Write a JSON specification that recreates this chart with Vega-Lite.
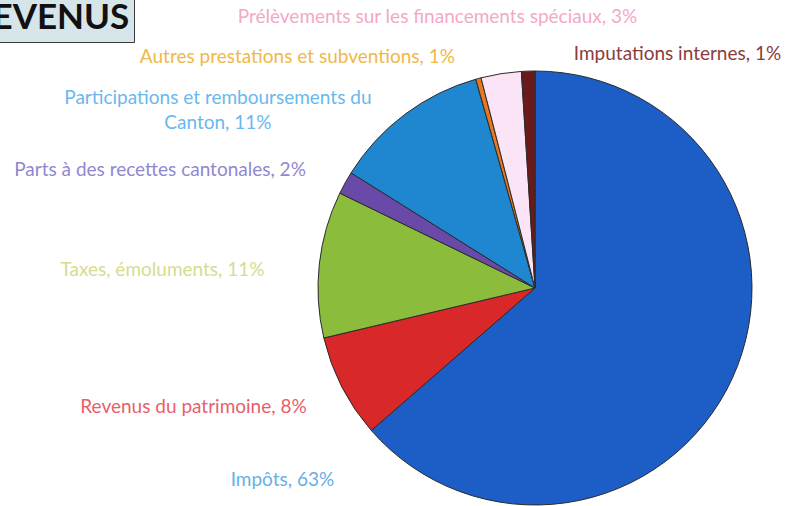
{
  "$schema": "https://vega.github.io/schema/vega-lite/v6.json",
  "width": 506,
  "height": 436,
  "autosize": {"type": "none"},
  "padding": {"left": 282, "top": 70, "right": 0, "bottom": 0},
  "background": "white",
  "view": {"stroke": null},
  "data": {"values": [
    {"cat": "Impôts", "value": 63.6, "ord": 1, "label": "Impôts, 63%"},
    {"cat": "Revenus du patrimoine", "value": 7.7, "ord": 2, "label": "Revenus du patrimoine, 8%"},
    {"cat": "Taxes, émoluments", "value": 10.9, "ord": 3, "label": "Taxes, émoluments, 11%"},
    {"cat": "Parts à des recettes cantonales", "value": 1.7, "ord": 4, "label": "Parts à des recettes cantonales, 2%"},
    {"cat": "Participations et remboursements du Canton", "value": 11.7, "ord": 5, "label": "Participations et remboursements du\nCanton, 11%"},
    {"cat": "Autres prestations et subventions", "value": 0.4, "ord": 6, "label": "Autres prestations et subventions, 1%"},
    {"cat": "Prélèvements sur les financements spéciaux", "value": 3.0, "ord": 7, "label": "Prélèvements sur les financements spéciaux, 3%"},
    {"cat": "Imputations internes", "value": 1.0, "ord": 8, "label": "Imputations internes, 1%"}
  ]},
  "encoding": {
    "theta": {"field": "value", "type": "quantitative", "stack": true},
    "order": {"field": "ord", "type": "quantitative"}
  },
  "layer": [
    {
      "mark": {"type": "arc", "outerRadius": 217, "stroke": "#2b2b2b", "strokeWidth": 1},
      "encoding": {
        "color": {
          "field": "cat", "type": "nominal",
          "scale": {
            "domain": ["Impôts", "Revenus du patrimoine", "Taxes, émoluments", "Parts à des recettes cantonales", "Participations et remboursements du Canton", "Autres prestations et subventions", "Prélèvements sur les financements spéciaux", "Imputations internes"],
            "range": ["#1c5dc6", "#d8282a", "#8cbc3c", "#6a4aa8", "#1f86d0", "#e87820", "#fbe4f6", "#6a1a1a"]
          },
          "legend": {
            "values": ["Impôts"],
            "orient": "none",
            "legendX": -316,
            "legendY": -73,
            "title": "REVENUS",
            "titleFont": "Lato",
            "titleFontSize": 35,
            "titleFontWeight": "bold",
            "titleColor": "#111111",
            "titleLimit": 400,
            "titlePadding": 1,
            "titleAnchor": "start",
            "titleAlign": "left",
            "padding": 4,
            "offset": 0,
            "fillColor": "#d6e5e9",
            "strokeColor": "#3a3a3a",
            "symbolSize": 0,
            "symbolOpacity": 0,
            "symbolStrokeWidth": 0,
            "symbolOffset": 0,
            "labelOffset": 0,
            "labelFontSize": 1,
            "labelOpacity": 0,
            "rowPadding": 0,
            "columnPadding": 0
          }
        }
      }
    },
    {
      "mark": {"type": "text", "radius": 240, "dx": -471, "dy": 93, "font": "Lato", "fontSize": 19, "color": "#66b0e8"},
      "encoding": {"text": {"condition": {"test": "datum.ord === 1", "field": "label"}, "value": ""}}
    },
    {
      "mark": {"type": "text", "radius": 240, "dx": -128, "dy": 9, "font": "Lato", "fontSize": 19, "color": "#e8606a"},
      "encoding": {"text": {"condition": {"test": "datum.ord === 2", "field": "label"}, "value": ""}}
    },
    {
      "mark": {"type": "text", "radius": 240, "dx": -134, "dy": 8, "font": "Lato", "fontSize": 19, "color": "#d6dc90"},
      "encoding": {"text": {"condition": {"test": "datum.ord === 3", "field": "label"}, "value": ""}}
    },
    {
      "mark": {"type": "text", "radius": 240, "dx": -165, "dy": -2, "font": "Lato", "fontSize": 19, "color": "#9088d0"},
      "encoding": {"text": {"condition": {"test": "datum.ord === 4", "field": "label"}, "value": ""}}
    },
    {
      "mark": {"type": "text", "radius": 240, "dx": -173, "dy": 2, "font": "Lato", "fontSize": 19, "color": "#6ab8ec", "lineBreak": "\n", "lineHeight": 25},
      "encoding": {"text": {"condition": {"test": "datum.ord === 5", "field": "label"}, "value": ""}}
    },
    {
      "mark": {"type": "text", "radius": 240, "dx": -175, "dy": 1, "font": "Lato", "fontSize": 19, "color": "#f0b848"},
      "encoding": {"text": {"condition": {"test": "datum.ord === 6", "field": "label"}, "value": ""}}
    },
    {
      "mark": {"type": "text", "radius": 240, "dx": -60, "dy": -34, "font": "Lato", "fontSize": 19, "color": "#f4a8c8"},
      "encoding": {"text": {"condition": {"test": "datum.ord === 7", "field": "label"}, "value": ""}}
    },
    {
      "mark": {"type": "text", "radius": 240, "dx": 150, "dy": 6, "font": "Lato", "fontSize": 19, "color": "#8c3c3c"},
      "encoding": {"text": {"condition": {"test": "datum.ord === 8", "field": "label"}, "value": ""}}
    }
  ]
}
